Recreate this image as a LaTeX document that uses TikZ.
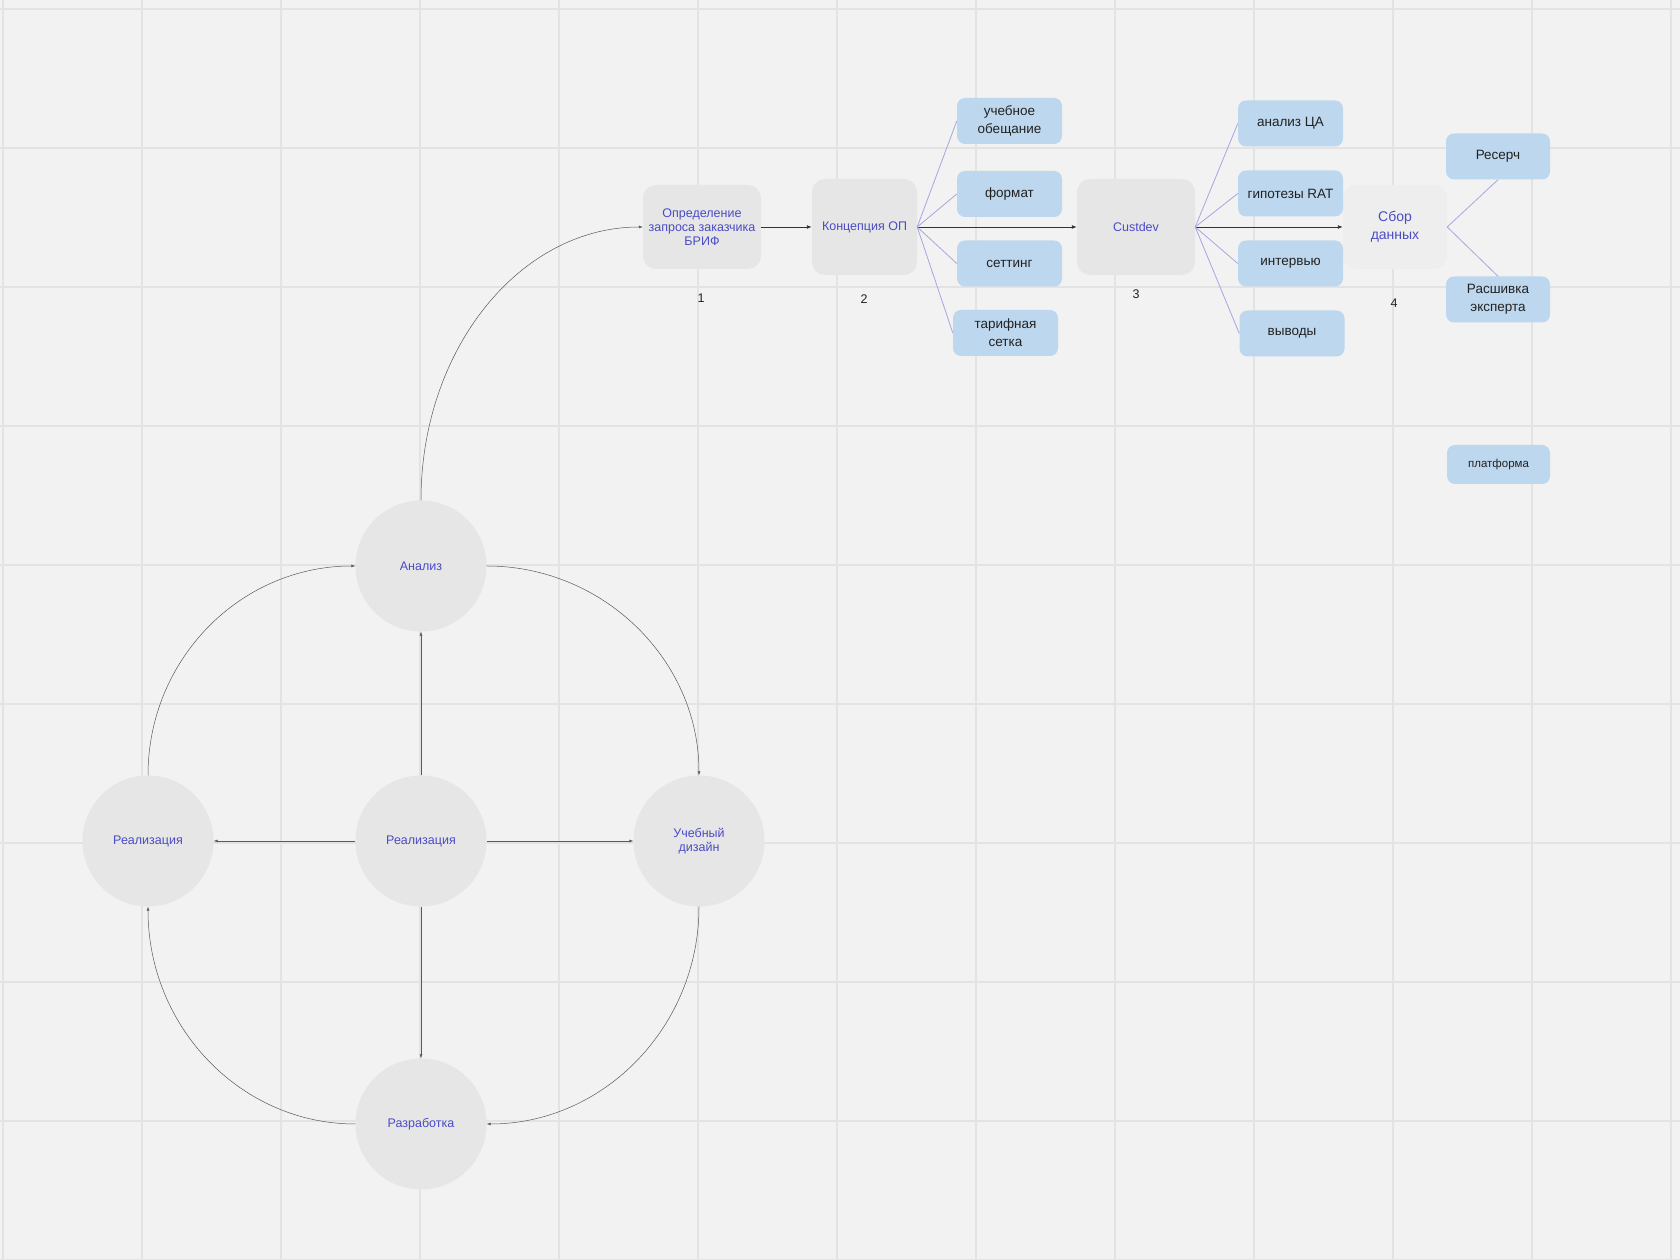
\documentclass[tikz,border=0pt]{standalone}
\usepackage{fontspec}
\setmainfont{Liberation Sans}
\usetikzlibrary{arrows.meta}
\definecolor{canvas}{HTML}{F2F2F2}
\definecolor{gridline}{HTML}{E3E3E3}
\definecolor{stagefill}{HTML}{E6E6E6}
\definecolor{palefill}{HTML}{EEEEEE}
\definecolor{lightblue}{HTML}{BDD7EE}
\definecolor{ink}{HTML}{4B4BC6}
\definecolor{lavender}{HTML}{A6A6E0}
\definecolor{darktext}{HTML}{222222}
\tikzset{
  stagebox/.style={
    rounded corners=13pt,draw=none,fill=stagefill,
    text=ink,align=center,inner sep=0pt,
    font=\fontsize{12.5}{14.3}\selectfont
  },
  topicbox/.style={
    rounded corners=8pt,draw=none,fill=lightblue,
    text=darktext,align=center,inner sep=0pt,
    minimum width=105pt,minimum height=46pt,
    font=\fontsize{13.5}{18.3}\selectfont
  },
  phase/.style={
    circle,draw=none,fill=stagefill,minimum size=131pt,
    text=ink,align=center,inner sep=0pt,
    font=\fontsize{12.5}{13.8}\selectfont
  },
  stepno/.style={text=darktext,font=\fontsize{12.5}{14}\selectfont},
  arrow/.style={-{Latex[length=5pt,width=4pt]},draw=black!80,line width=.9pt},
  cyclearrow/.style={-{Latex[length=4pt,width=3pt]},draw=black!65,line width=.5pt},
  branch/.style={draw=lavender,line width=.8pt}
}
\begin{document}
\begin{tikzpicture}[x=1pt,y=1pt]
\useasboundingbox (0,0) rectangle (1680,1260);
\fill[canvas] (0,0) rectangle (1680,1260);
% grid
\foreach \gx in {3,142,...,1680}
  \draw[gridline,line width=2pt] (\gx,0) -- (\gx,1260);
\foreach \gy in {0,139,...,1260}
  \draw[gridline,line width=2pt] (0,\gy) -- (1680,\gy);

% main flow
\node[stagebox,minimum width=118pt,minimum height=84pt] (brif) at (702,1033)
  {Определение\\запроса заказчика\\БРИФ};
\node[stagebox,minimum width=105pt,minimum height=96pt] (concept) at (864.5,1033)
  {Концепция ОП};
\node[stagebox,minimum width=118pt,minimum height=96pt] (custdev) at (1136,1033)
  {Custdev};
\node[stagebox,fill=palefill,minimum width=104pt,minimum height=84pt,
  font=\fontsize{14}{18.3}\selectfont] (collect) at (1395,1033)
  {Сбор\\данных};

\node[stepno] (no1) at (701,962) {1};
\node[stepno] (no2) at (864,961) {2};
\node[stepno] (no3) at (1136,966) {3};
\node[stepno] (no4) at (1394,957) {4};

% concept topics
\node[topicbox] (promise) at (1009.5,1139) {учебное\\обещание};
\node[topicbox] (format) at (1009.5,1066) {формат};
\node[topicbox] (setting) at (1009.5,996.5) {сеттинг};
\node[topicbox] (tariff) at (1005.5,927) {тарифная\\сетка};

% custdev topics
\node[topicbox] (audience) at (1290.5,1136.5) {анализ ЦА};
\node[topicbox] (hypo) at (1290.5,1066.5) {гипотезы RAT};
\node[topicbox] (interview) at (1290.5,996.5) {интервью};
\node[topicbox] (findings) at (1292,926.5) {выводы};

% data topics
\node[topicbox,minimum width=104pt] (research) at (1498,1103.5) {Ресерч};
\node[topicbox,minimum width=104pt] (expert) at (1498,960.5) {Расшивка\\эксперта};
\node[topicbox,minimum width=103pt,minimum height=39pt,
  font=\fontsize{11.5}{14}\selectfont] (platform) at (1498.5,795.5) {платформа};

% cycle
\node[phase] (analysis) at (421,694) {Анализ};
\node[phase] (core) at (421,419) {Реализация};
\node[phase] (release) at (148,419) {Реализация};
\node[phase] (design) at (699,419) {Учебный\\дизайн};
\node[phase] (build) at (421,136) {Разработка};

\draw[arrow] (brif)--(concept);
\draw[arrow] (concept)--(custdev);
\draw[arrow] (custdev)--(collect);

\foreach \t in {promise,format,setting,tariff}
  \draw[branch] (concept.east) -- (\t.west);
\foreach \t in {audience,hypo,interview,findings}
  \draw[branch] (custdev.east) -- (\t.west);
\draw[branch] (collect.east) -- (research.south);
\draw[branch] (collect.east) -- (expert.north);

\draw[cyclearrow] (core)--(analysis);
\draw[cyclearrow] (core)--(release);
\draw[cyclearrow] (core)--(design);
\draw[cyclearrow] (core)--(build);
\draw[cyclearrow] (release.north) .. controls +(0,116) and +(-115,0) .. (analysis.west);
\draw[cyclearrow] (analysis.east) .. controls +(117,0) and +(0,115) .. (design.north);
\draw[cyclearrow] (design.south) .. controls +(0,-120) and +(117,0) .. (build.east);
\draw[cyclearrow] (build.west) .. controls +(-115,0) and +(0,-120) .. (release.south);
\draw[cyclearrow] (analysis.north) .. controls +(0,151) and +(-123,0) .. (brif.west);
\end{tikzpicture}
\end{document}
